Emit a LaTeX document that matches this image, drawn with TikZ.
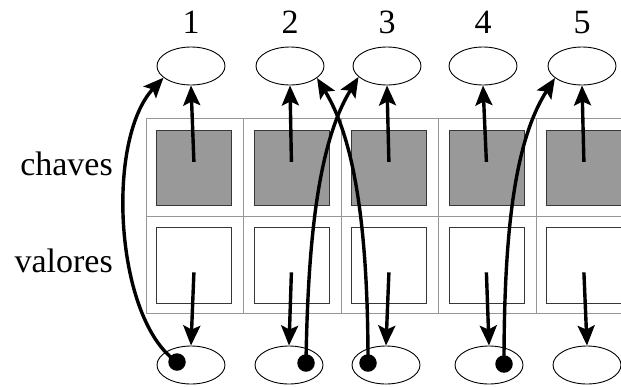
\documentclass[tikz,border=0pt]{standalone}
\usepackage{fontspec}
\setmainfont{Liberation Serif}
\usetikzlibrary{arrows.meta,shapes.geometric,calc}
\definecolor{keygray}{RGB}{153,153,153}
\definecolor{gridgray}{RGB}{150,150,150}
\definecolor{boxedge}{RGB}{55,55,55}
\begin{document}
\begin{tikzpicture}[x=1pt,y=-1pt,
  cell/.style={draw=gridgray,line width=0.8pt},
  keybox/.style={draw=boxedge,fill=keygray,line width=0.8pt,minimum width=75pt,minimum height=75pt,inner sep=0pt,anchor=north west},
  valbox/.style={draw=boxedge,fill=white,line width=0.8pt,minimum width=75pt,minimum height=76pt,inner sep=0pt,anchor=north west},
  slot/.style={draw,ellipse,minimum width=68pt,minimum height=38pt,line width=0.9pt,inner sep=0pt},
  dot/.style={circle,fill=black,inner sep=0pt,minimum size=17.5pt},
  ptr/.style={line width=3.4pt,-{Stealth[length=20pt,width=17pt,inset=4pt]}},
  lbl/.style={font=\fontsize{34}{40}\selectfont,inner sep=0pt}]
\useasboundingbox (0,0) rectangle (621,386);
\clip (0,0) rectangle (621,386);
% grid cells
\foreach \i in {0,...,4}{
  \draw[cell] ({146+97.5*\i},118) rectangle ({243.5+97.5*\i},216);
  \draw[cell] ({146+97.5*\i},216) rectangle ({243.5+97.5*\i},313);
  \node[keybox] (k\the\numexpr\i+1\relax) at ({156+97.5*\i},130) {};
  \node[valbox] (v\the\numexpr\i+1\relax) at ({156+97.5*\i},227) {};
}
% top slots and numbers
\foreach \n/\x in {1/191,2/290,3/387,4/483,5/582}{
  \node[slot] (t\n) at (\x,66) {};
  \node[lbl,anchor=base] (n\n) at (\x,33) {\n};
}
% bottom slots
\foreach \n/\x in {1/191,2/289,3/386,4/489,5/587}{
  \node[slot] (b\n) at (\x,365) {};
}
% row labels
\node[lbl,anchor=base east] (chaves) at (113,175) {chaves};
\node[lbl,anchor=base east] (valores) at (113,272) {valores};
% straight pointers
\foreach \n in {1,...,5}{
  \draw[ptr] ($(k\n.center)+(0,-6)$) -- (t\n.south);
  \draw[ptr] ($(v\n.center)+(0,7)$) -- (b\n.north);
}
% dots
\node[dot] (d1) at (177,362) {};
\node[dot] (d2) at (306,363) {};
\node[dot] (d3) at (368,363) {};
\node[dot] (d4) at (504,364) {};
% curved pointers
\draw[ptr] (d1.center) .. controls (115,320) and (105,140) .. (t1.203);
\draw[ptr] (d2.center) .. controls (308,230) and (320,140) .. (t3.201);
\draw[ptr] (d3.center) .. controls (368,230) and (355,140) .. (t2.-24);
\draw[ptr] (d4.center) .. controls (504,230) and (515,140) .. (t5.204);
\end{tikzpicture}
\end{document}
